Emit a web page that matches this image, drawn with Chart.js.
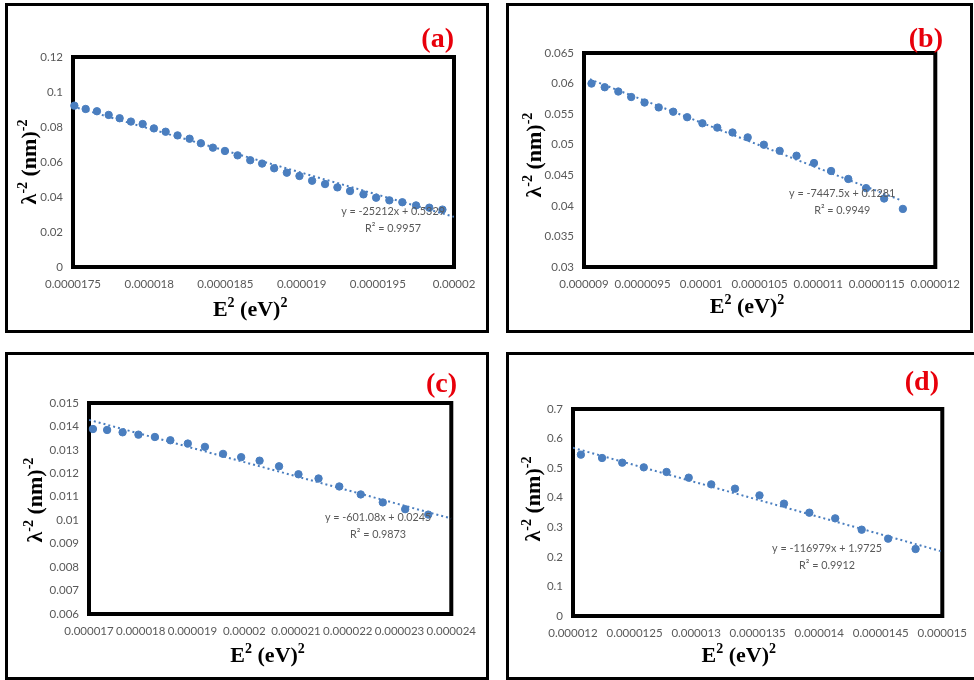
<!DOCTYPE html>
<html>
<head>
<meta charset="utf-8">
<title>Urbach-type plots</title>
<script src="https://cdn.jsdelivr.net/npm/chart.js@4.4.1/dist/chart.umd.min.js"></script>
<style>
  html, body { margin: 0; padding: 0; background: #fff; overflow: hidden; }
  body { width: 974px; height: 680px; position: relative; }
  .panel { position: absolute; border: 3px solid #000; box-sizing: border-box; background: #fff; }
  .panel canvas { display: block; }
</style>
</head>
<body>
<div class="panel" style="left:5px;top:3px;width:484px;height:330px"><canvas id="chartA" width="478" height="324"></canvas></div>
<div class="panel" style="left:506px;top:3px;width:467px;height:330px"><canvas id="chartB" width="461" height="324"></canvas></div>
<div class="panel" style="left:5px;top:352px;width:484px;height:328px"><canvas id="chartC" width="478" height="322"></canvas></div>
<div class="panel" style="left:506px;top:352px;width:474px;height:328px"><canvas id="chartD" width="468" height="322"></canvas></div>
<script>
// ---- data: E^2 (eV)^2 vs lambda^-2 (nm)^-2 ----
const xA = [1.7509e-5, 1.7583e-5, 1.7657e-5, 1.7734e-5, 1.7806e-5, 1.7880e-5, 1.7957e-5, 1.8031e-5,
  1.8108e-5, 1.8186e-5, 1.8265e-5, 1.8339e-5, 1.8418e-5, 1.8497e-5, 1.8580e-5, 1.8663e-5,
  1.8741e-5, 1.8820e-5, 1.8903e-5, 1.8986e-5, 1.9069e-5, 1.9154e-5, 1.9235e-5, 1.9318e-5,
  1.9406e-5, 1.9489e-5, 1.9576e-5, 1.9661e-5, 1.9751e-5, 1.9838e-5, 1.9924e-5];
const yA = [0.0922, 0.0903, 0.0890, 0.0869, 0.0850, 0.0831, 0.0817, 0.0792, 0.0773, 0.0752,
  0.0733, 0.0707, 0.0682, 0.0663, 0.0638, 0.0610, 0.0591, 0.0564, 0.0539, 0.0520,
  0.0493, 0.0474, 0.0455, 0.0434, 0.0415, 0.0396, 0.0381, 0.0370, 0.0352, 0.0339, 0.0328];

const xB = [9.064e-6, 9.177e-6, 9.293e-6, 9.403e-6, 9.517e-6, 9.638e-6, 9.762e-6, 9.881e-6,
  1.0011e-5, 1.0138e-5, 1.0268e-5, 1.0398e-5, 1.0536e-5, 1.0671e-5, 1.0815e-5, 1.0964e-5,
  1.1110e-5, 1.1257e-5, 1.1409e-5, 1.1563e-5, 1.1723e-5];
const yB = [0.0600, 0.0594, 0.0587, 0.0578, 0.0569, 0.0561, 0.0554, 0.0545, 0.0535, 0.0528,
  0.0520, 0.0512, 0.0500, 0.0490, 0.0482, 0.0470, 0.0457, 0.0444, 0.0429, 0.0412, 0.0395];

const xC = [1.7076e-5, 1.7350e-5, 1.7649e-5, 1.7955e-5, 1.8273e-5, 1.8572e-5, 1.8909e-5, 1.9240e-5,
  1.9590e-5, 1.9940e-5, 2.0296e-5, 2.0672e-5, 2.1047e-5, 2.1435e-5, 2.1836e-5, 2.2250e-5,
  2.2676e-5, 2.3109e-5, 2.3555e-5];
const yC = [0.01389, 0.01385, 0.01375, 0.01365, 0.01355, 0.01341, 0.01327, 0.01313, 0.01283, 0.01269,
  0.01254, 0.01230, 0.01196, 0.01178, 0.01144, 0.01110, 0.01076, 0.01047, 0.01024];

const xD = [1.2064e-5, 1.2236e-5, 1.2400e-5, 1.2575e-5, 1.2760e-5, 1.2940e-5, 1.3123e-5, 1.3316e-5,
  1.3515e-5, 1.3714e-5, 1.3920e-5, 1.4130e-5, 1.4345e-5, 1.4560e-5, 1.4783e-5];
const yD = [0.5456, 0.5343, 0.5185, 0.5027, 0.4870, 0.4678, 0.4452, 0.4306, 0.4080, 0.3799,
  0.3494, 0.3303, 0.2919, 0.2615, 0.2266];

// linear fits (slope, intercept, R^2) and the x span each fit line covers
const fitSlope = [-25212, -7447.5, -601.08, -116979];
const fitIntercept = [0.5329, 0.1281, 0.0245, 1.9725];
const fitR2 = [0.9957, 0.9949, 0.9873, 0.9912];
const fitFromX = [1.75e-5, 9.05e-6, 1.7e-5, 1.2e-5];
const fitToX = [2e-5, 1.17e-5, 2.4e-5, 1.5e-5];

// axis ticks
const xTicksA = [1.75e-5, 1.8e-5, 1.85e-5, 1.9e-5, 1.95e-5, 2e-5];
const yTicksA = [0, 0.02, 0.04, 0.06, 0.08, 0.1, 0.12];
const xTicksB = [9e-6, 9.5e-6, 1e-5, 1.05e-5, 1.1e-5, 1.15e-5, 1.2e-5];
const yTicksB = [0.03, 0.035, 0.04, 0.045, 0.05, 0.055, 0.06, 0.065];
const xTicksC = [1.7e-5, 1.8e-5, 1.9e-5, 2e-5, 2.1e-5, 2.2e-5, 2.3e-5, 2.4e-5];
const yTicksC = [0.006, 0.007, 0.008, 0.009, 0.01, 0.011, 0.012, 0.013, 0.014, 0.015];
const xTicksD = [1.2e-5, 1.25e-5, 1.3e-5, 1.35e-5, 1.4e-5, 1.45e-5, 1.5e-5];
const yTicksD = [0, 0.1, 0.2, 0.3, 0.4, 0.5, 0.6, 0.7];

const panelTags = ['(a)', '(b)', '(c)', '(d)'];

const BLUE = '#4a7ebf';
const GREY = '#595959';
const SERIF = '"Liberation Serif", "Times New Roman", serif';
const SANS = 'Lato, "Open Sans", sans-serif';

// bold serif text with raised superscripts, centred on cx
function drawRich(ctx, parts, cx, baseY, size) {
  const big = `bold ${size}px ${SERIF}`;
  const small = `bold ${Math.round(size * 0.62)}px ${SERIF}`;
  let w = 0;
  parts.forEach(([t, sup]) => { ctx.font = sup ? small : big; w += ctx.measureText(t).width; });
  let x = cx - w / 2;
  ctx.textAlign = 'left';
  ctx.textBaseline = 'alphabetic';
  parts.forEach(([t, sup]) => {
    ctx.font = sup ? small : big;
    ctx.fillText(t, x, sup ? baseY - size * 0.4 : baseY);
    x += ctx.measureText(t).width;
  });
}

const panelDecor = {
  id: 'panelDecor',
  beforeDatasetsDraw(chart, args, o) {
    const { ctx, chartArea: a } = chart;
    ctx.save();
    ctx.strokeStyle = '#000';
    ctx.lineWidth = 4;
    ctx.strokeRect(a.left, a.top, a.right - a.left, a.bottom - a.top);
    ctx.restore();
  },
  afterDraw(chart, args, o) {
    const { ctx, chartArea: a } = chart;
    const w = a.right - a.left, h = a.bottom - a.top;
    ctx.save();
    ctx.fillStyle = '#000';
    // x axis title
    drawRich(ctx, [['E', false], ['2', true], [' (eV)', false], ['2', true]],
      a.left + w * o.xTitle[0], a.bottom + o.xTitle[1], 22);
    // y axis title, rotated
    ctx.save();
    ctx.translate(a.left - o.yTitle[0], a.top + h * o.yTitle[1]);
    ctx.rotate(-Math.PI / 2);
    drawRich(ctx, [['λ', false], ['-2', true], [' (nm)', false], ['-2', true]], 0, 0, 22);
    ctx.restore();
    // panel tag
    ctx.fillStyle = '#e8000b';
    ctx.font = `bold 28px ${SERIF}`;
    ctx.textAlign = 'right';
    ctx.textBaseline = 'alphabetic';
    ctx.fillText(o.tag, o.tagPos[0], o.tagPos[1]);
    // fit equation, slightly condensed
    const ex = a.left + w * o.eqPos[0], ey = a.top + h * o.eqPos[1];
    ctx.translate(ex, ey);
    ctx.scale(0.9, 1);
    ctx.fillStyle = GREY;
    ctx.font = `12px ${SANS}`;
    ctx.textAlign = 'center';
    ctx.textBaseline = 'middle';
    ctx.fillText(`y = ${fitSlope[o.k]}x + ${fitIntercept[o.k]}`, 0, 0);
    ctx.fillText(`R² = ${fitR2[o.k]}`, 0, 17);
    ctx.restore();
  }
};

function makePanel(id, k, xs, ys, xTicks, yTicks, lay) {
  const pts = xs.map((x, i) => ({ x, y: ys[i] }));
  const fit = [fitFromX[k], fitToX[k]].map(x => ({ x, y: fitSlope[k] * x + fitIntercept[k] }));
  const tickFont = { family: SANS, size: 11.5 };
  return new Chart(document.getElementById(id), {
    type: 'scatter',
    data: {
      datasets: [
        { data: pts, backgroundColor: BLUE, borderColor: BLUE, pointRadius: 3.7, pointHoverRadius: 3.7, clip: false },
        { data: fit, showLine: true, pointRadius: 0, borderColor: BLUE, borderWidth: 2, borderDash: [2, 3] }
      ]
    },
    options: {
      responsive: false,
      animation: false,
      events: [],
      layout: { padding: { top: lay.box.top, right: lay.box.right, left: 0, bottom: 0 } },
      plugins: {
        legend: { display: false },
        tooltip: { enabled: false },
        panelDecor: { k, tag: panelTags[k], tagPos: lay.tagPos, eqPos: lay.eqPos, xTitle: lay.xTitle, yTitle: lay.yTitle }
      },
      scales: {
        x: {
          type: 'linear',
          min: xTicks[0],
          max: xTicks[xTicks.length - 1],
          grid: { display: false, drawTicks: false },
          border: { display: false },
          afterBuildTicks: (ax) => { ax.ticks = xTicks.map(v => ({ value: v })); },
          afterFit: (ax) => { ax.height = lay.box.bottom; },
          ticks: { color: GREY, font: tickFont, padding: 10, autoSkip: false, maxRotation: 0, minRotation: 0, callback: (v) => String(v) }
        },
        y: {
          type: 'linear',
          min: yTicks[0],
          max: yTicks[yTicks.length - 1],
          grid: { display: false, drawTicks: false },
          border: { display: false },
          afterBuildTicks: (ax) => { ax.ticks = yTicks.map(v => ({ value: v })); },
          afterFit: (ax) => { ax.width = lay.box.left; },
          ticks: { color: GREY, font: tickFont, padding: 10, callback: (v) => String(v) }
        }
      }
    },
    plugins: [panelDecor]
  });
}

makePanel('chartA', 0, xA, yA, xTicksA, yTicksA, {
  box: { left: 65, top: 51, right: 32, bottom: 63 },
  tagPos: [446, 41], eqPos: [0.84, 0.733], xTitle: [0.465, 49], yTitle: [37, 0.5]
});
makePanel('chartB', 1, xB, yB, xTicksB, yTicksB, {
  box: { left: 75, top: 47, right: 24, bottom: 63 },
  tagPos: [434, 41], eqPos: [0.735, 0.654], xTitle: [0.464, 46], yTitle: [43, 0.477]
});
makePanel('chartC', 2, xC, yC, xTicksC, yTicksC, {
  box: { left: 81, top: 48, right: 30, bottom: 63 },
  tagPos: [449, 37], eqPos: [0.798, 0.54], xTitle: [0.493, 48], yTitle: [47, 0.46]
});
makePanel('chartD', 3, xD, yD, xTicksD, yTicksD, {
  box: { left: 64, top: 54, right: 32, bottom: 61 },
  tagPos: [430, 35], eqPos: [0.688, 0.671], xTitle: [0.449, 46], yTitle: [33, 0.435]
});
</script>
</body>
</html>
